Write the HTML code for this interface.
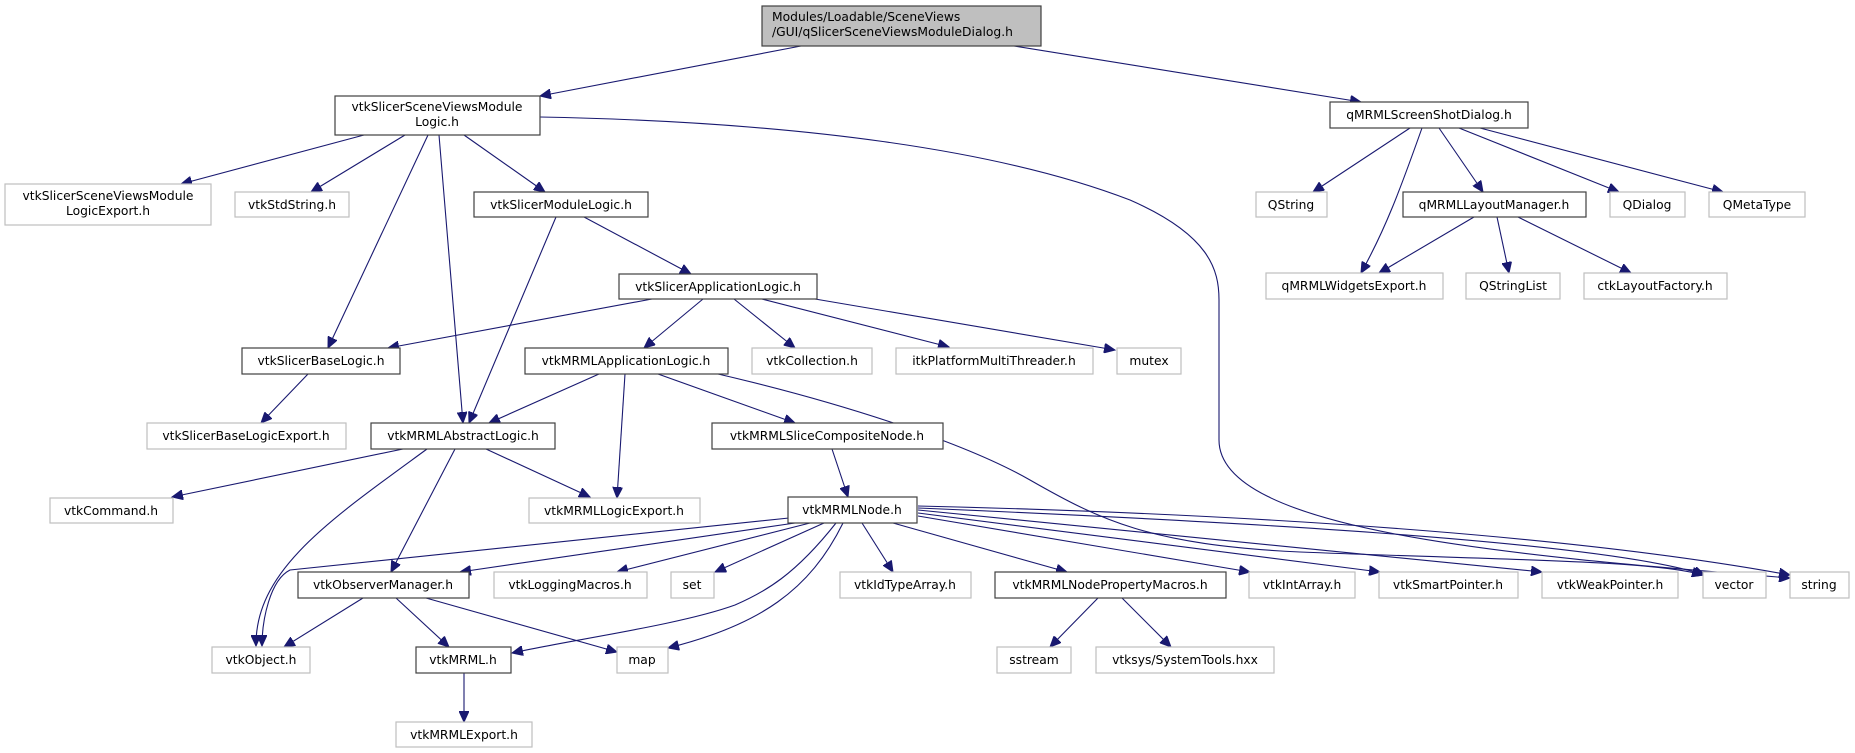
<!DOCTYPE html>
<html><head><meta charset="utf-8"><style>
html,body{margin:0;padding:0;background:#fff;}
svg{display:block;}
text{font-family:"DejaVu Sans","Liberation Sans",sans-serif;font-size:12.3px;fill:#000;}
.b{fill:#fff;stroke:#404040;stroke-width:1.2;}
.g{fill:#fff;stroke:#bfbfbf;stroke-width:1.2;}
.e{fill:none;stroke:#191970;stroke-width:1.1;}
</style></head><body>
<svg width="1855" height="753" viewBox="0 0 1855 753" xmlns="http://www.w3.org/2000/svg">
<defs><marker id="a" markerUnits="userSpaceOnUse" markerWidth="12" markerHeight="10" refX="11" refY="5" orient="auto"><path d="M0,0 L11,5 L0,10 z" fill="#191970" stroke="#191970"/></marker></defs>
<g class="e" marker-end="url(#a)">
<path d="M801,46 L540,96"/>
<path d="M1014,46 L1361,102"/>
<path d="M364,135 L181,184"/>
<path d="M405,135 L311,192"/>
<path d="M428,135 L328,348"/>
<path d="M439,135 L463,423"/>
<path d="M464,135 L545,192"/>
<path d="M540,117 C800,122 1000,150 1130,200 C1210,235 1219,270 1219,300 L1219,440 C1219,530 1500,555 1790,578"/>
<path d="M556,217 L469,423"/>
<path d="M584,217 L691,274"/>
<path d="M652,299 L388,348"/>
<path d="M703,299 L644,348"/>
<path d="M734,299 L795,348"/>
<path d="M762,299 L949,347"/>
<path d="M815,299 L1115,350"/>
<path d="M308,374 L261,423"/>
<path d="M599,374 L489,423"/>
<path d="M625,374 L617,498"/>
<path d="M658,374 L795,423"/>
<path d="M718,374 C830,400 960,440 1030,480 C1100,520 1150,545 1300,552 C1500,560 1650,560 1703,575"/>
<path d="M403,449 L172,497"/>
<path d="M427,449 C330,520 255,570 256,646"/>
<path d="M455,449 L391,572"/>
<path d="M486,449 L590,497"/>
<path d="M832,449 L848,497"/>
<path d="M789,518 L290,570 C270,580 262,620 262,646"/>
<path d="M795,523 L460,572"/>
<path d="M810,523 L617,572"/>
<path d="M824,523 L715,572"/>
<path d="M836,523 C795,575 765,592 735,605 C680,625 570,640 512,653"/>
<path d="M843,523 C810,590 760,625 668,648"/>
<path d="M862,523 L893,572"/>
<path d="M893,523 L1067,572"/>
<path d="M918,516 L1250,572"/>
<path d="M918,513 L1380,572"/>
<path d="M918,510 L1542,572"/>
<path d="M918,508 C1200,520 1600,540 1705,575"/>
<path d="M918,506 C1300,515 1600,540 1790,575"/>
<path d="M363,598 L284,647"/>
<path d="M396,598 L449,647"/>
<path d="M426,598 L617,652"/>
<path d="M464,673 L464,722"/>
<path d="M1098,598 L1050,647"/>
<path d="M1122,598 L1171,647"/>
<path d="M1410,128 L1313,192"/>
<path d="M1422,128 C1400,190 1385,230 1361,273"/>
<path d="M1439,128 L1483,192"/>
<path d="M1459,128 L1619,192"/>
<path d="M1480,128 L1723,192"/>
<path d="M1474,217 L1379,273"/>
<path d="M1497,217 L1509,273"/>
<path d="M1518,217 L1631,273"/>
</g>
<rect x="762" y="6" width="279" height="40" fill="#bfbfbf" stroke="#404040" stroke-width="1.2"/>
<text x="772" y="21">Modules/Loadable/SceneViews</text>
<text x="772" y="36">/GUI/qSlicerSceneViewsModuleDialog.h</text>
<g text-anchor="middle">
<rect class="b" x="335" y="96" width="205" height="39"/><text x="437" y="111">vtkSlicerSceneViewsModule</text><text x="437" y="126">Logic.h</text>
<rect class="g" x="5" y="184" width="206" height="41"/><text x="108" y="200">vtkSlicerSceneViewsModule</text><text x="108" y="215">LogicExport.h</text>
<rect class="g" x="235" y="192" width="114" height="25"/><text x="292" y="209">vtkStdString.h</text>
<rect class="b" x="474" y="192" width="174" height="25"/><text x="561" y="209">vtkSlicerModuleLogic.h</text>
<rect class="b" x="619" y="274" width="198" height="25"/><text x="718" y="291">vtkSlicerApplicationLogic.h</text>
<rect class="b" x="242" y="348" width="158" height="26"/><text x="321" y="365">vtkSlicerBaseLogic.h</text>
<rect class="b" x="525" y="348" width="203" height="26"/><text x="626" y="365">vtkMRMLApplicationLogic.h</text>
<rect class="g" x="752" y="348" width="120" height="26"/><text x="812" y="365">vtkCollection.h</text>
<rect class="g" x="896" y="348" width="197" height="26"/><text x="994" y="365">itkPlatformMultiThreader.h</text>
<rect class="g" x="1117" y="348" width="64" height="26"/><text x="1149" y="365">mutex</text>
<rect class="b" x="1330" y="102" width="198" height="26"/><text x="1429" y="119">qMRMLScreenShotDialog.h</text>
<rect class="g" x="1256" y="192" width="71" height="25"/><text x="1291" y="209">QString</text>
<rect class="b" x="1403" y="192" width="183" height="25"/><text x="1494" y="209">qMRMLLayoutManager.h</text>
<rect class="g" x="1610" y="192" width="75" height="25"/><text x="1647" y="209">QDialog</text>
<rect class="g" x="1709" y="192" width="96" height="25"/><text x="1757" y="209">QMetaType</text>
<rect class="g" x="1266" y="273" width="177" height="26"/><text x="1354" y="290">qMRMLWidgetsExport.h</text>
<rect class="g" x="1466" y="273" width="94" height="26"/><text x="1513" y="290">QStringList</text>
<rect class="g" x="1584" y="273" width="143" height="26"/><text x="1655" y="290">ctkLayoutFactory.h</text>
<rect class="g" x="147" y="423" width="199" height="26"/><text x="246" y="440">vtkSlicerBaseLogicExport.h</text>
<rect class="b" x="371" y="423" width="184" height="26"/><text x="463" y="440">vtkMRMLAbstractLogic.h</text>
<rect class="b" x="712" y="423" width="231" height="26"/><text x="827" y="440">vtkMRMLSliceCompositeNode.h</text>
<rect class="g" x="50" y="498" width="123" height="25"/><text x="111" y="515">vtkCommand.h</text>
<rect class="g" x="529" y="498" width="171" height="25"/><text x="614" y="515">vtkMRMLLogicExport.h</text>
<rect class="b" x="788" y="497" width="129" height="26"/><text x="852" y="514">vtkMRMLNode.h</text>
<rect class="b" x="298" y="572" width="171" height="26"/><text x="383" y="589">vtkObserverManager.h</text>
<rect class="g" x="494" y="572" width="153" height="26"/><text x="570" y="589">vtkLoggingMacros.h</text>
<rect class="g" x="671" y="572" width="43" height="26"/><text x="692" y="589">set</text>
<rect class="g" x="840" y="572" width="131" height="26"/><text x="905" y="589">vtkIdTypeArray.h</text>
<rect class="b" x="995" y="572" width="231" height="26"/><text x="1110" y="589">vtkMRMLNodePropertyMacros.h</text>
<rect class="g" x="1249" y="572" width="106" height="26"/><text x="1302" y="589">vtkIntArray.h</text>
<rect class="g" x="1379" y="572" width="139" height="26"/><text x="1448" y="589">vtkSmartPointer.h</text>
<rect class="g" x="1542" y="572" width="136" height="26"/><text x="1610" y="589">vtkWeakPointer.h</text>
<rect class="g" x="1703" y="572" width="63" height="26"/><text x="1734" y="589">vector</text>
<rect class="g" x="1790" y="572" width="59" height="26"/><text x="1819" y="589">string</text>
<rect class="g" x="212" y="647" width="98" height="26"/><text x="261" y="664">vtkObject.h</text>
<rect class="b" x="416" y="647" width="95" height="26"/><text x="463" y="664">vtkMRML.h</text>
<rect class="g" x="617" y="647" width="51" height="26"/><text x="642" y="664">map</text>
<rect class="g" x="997" y="647" width="74" height="26"/><text x="1034" y="664">sstream</text>
<rect class="g" x="1096" y="647" width="178" height="26"/><text x="1185" y="664">vtksys/SystemTools.hxx</text>
<rect class="g" x="396" y="722" width="136" height="25"/><text x="464" y="739">vtkMRMLExport.h</text>
</g>
</svg>
</body></html>
